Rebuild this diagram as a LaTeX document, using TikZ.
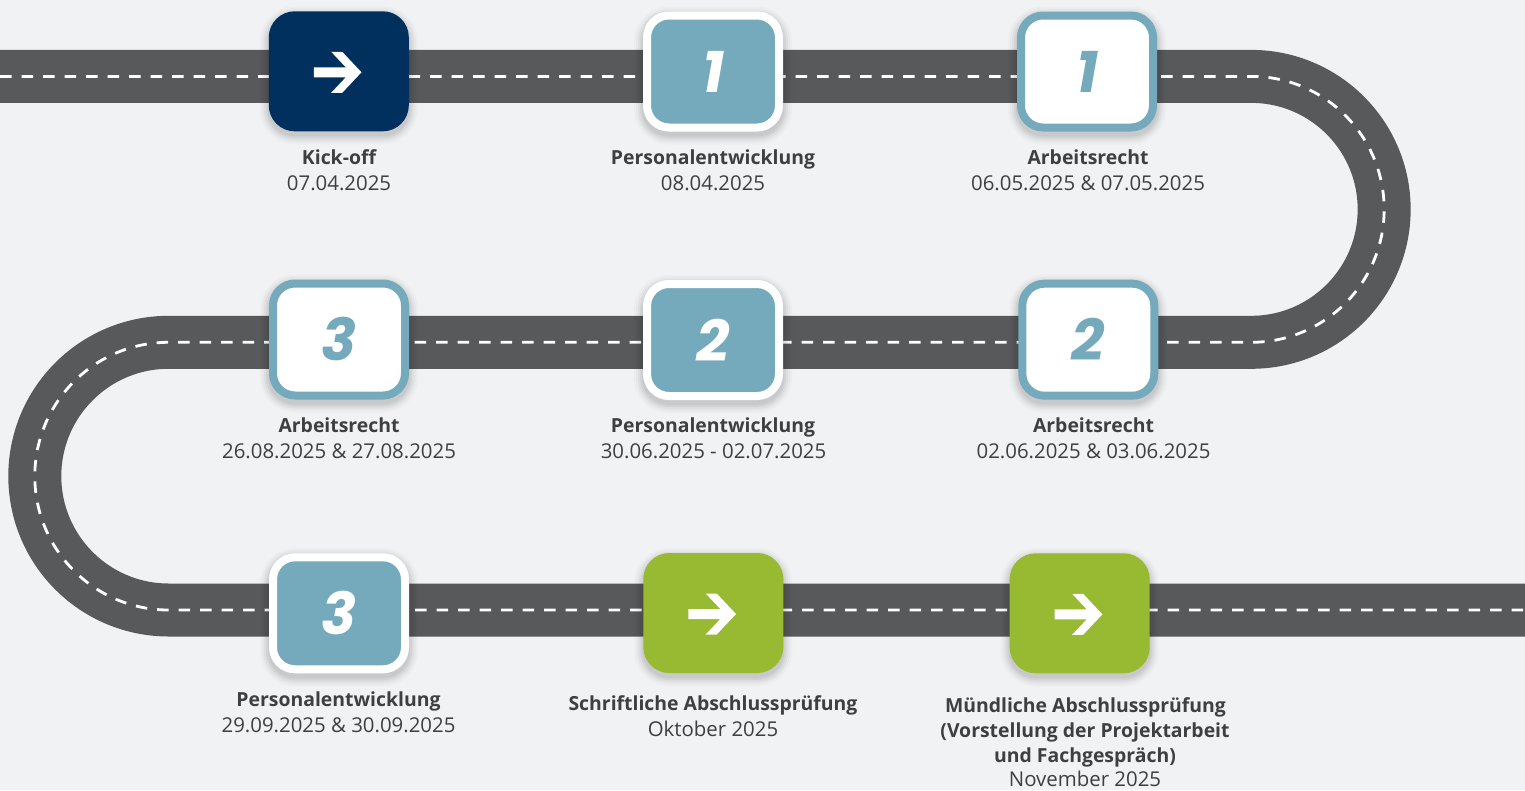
\documentclass[tikz,border=0pt]{standalone}
\usepackage{fontspec}
\setmainfont{Open Sans}
\newfontfamily\numfont{Poppins}
\definecolor{bgc}{HTML}{F1F2F4}
\definecolor{roadc}{HTML}{58595B}
\definecolor{navyc}{HTML}{012F5E}
\definecolor{tealc}{HTML}{75AABD}
\definecolor{greenc}{HTML}{97BA32}
\definecolor{textc}{HTML}{3F3F40}
\newcommand\myarrowicon[1]{%
  \begin{scope}[shift={(#1.center)}, yshift=-1pt]
    \fill[white] (-25,-5) -- (7,-5) -- (-7.6,-20.5) -- (3.4,-20.5) -- (22.7,0)
      -- (3.4,20.5) -- (-7.6,20.5) -- (7,5) -- (-25,5) -- cycle;
  \end{scope}}
\newcommand\myshadow[2]{%
  \foreach \e/\r/\o in {1/27/0.05,3/29/0.045,5/31/0.035,7/33/0.025,9/35/0.02}{
    \fill[black, opacity=\o, rounded corners=\r pt]
      (#1-70-\e, #2-60-\e+4) rectangle (#1+70+\e, #2+60+\e+4);
  }}
\begin{document}
\begin{tikzpicture}[x=1pt, y=-1pt,
  road/.style={line width=53pt, draw=roadc},
  midline/.style={line width=2.8pt, draw=white, dash pattern=on 11.5pt off 10pt},
  boxbase/.style={minimum width=132pt, minimum height=112pt, rounded corners=22pt,
    line width=8pt, inner sep=0pt},
  pebox/.style={boxbase, fill=tealc, draw=white},
  arbox/.style={boxbase, fill=white, draw=tealc},
  navybox/.style={boxbase, fill=navyc, draw=navyc},
  greenbox/.style={boxbase, fill=greenc, draw=greenc},
  ttl/.style={anchor=base, inner sep=0pt, text=textc,
    font=\bfseries\fontsize{19.4}{26}\selectfont},
  dat/.style={anchor=base, inner sep=0pt, text=textc,
    font=\fontsize{20.4}{26}\selectfont},
  numw/.style={inner sep=0pt, text=white,
    font=\numfont\bfseries\itshape\fontsize{58}{58}\selectfont},
  numt/.style={numw, text=tealc}]
\useasboundingbox (0,0) rectangle (1525,790);
\fill[bgc] (0,0) rectangle (1525,790);

% road
\coordinate (rs) at (0,76.4);
\coordinate (re) at (1525,610);
\draw[road] (rs) -- (1251.2,76.4) arc[start angle=-90, end angle=90, radius=132.95]
  -- (168.65,342.3) arc[start angle=270, end angle=90, radius=133.85] -- (re);
\draw[midline] (rs) -- (1251.2,76.4) arc[start angle=-90, end angle=90, radius=132.95]
  -- (168.65,342.3) arc[start angle=270, end angle=90, radius=133.85] -- (re);

% shadows
\myshadow{338.8}{71.3}
\myshadow{713}{71.5}
\myshadow{1087}{71.5}
\myshadow{339}{339.5}
\myshadow{713}{340}
\myshadow{1088.3}{339.7}
\myshadow{339}{613.3}
\myshadow{713.3}{613}
\myshadow{1079.7}{613.3}

% boxes
\node[navybox] (b0) at (338.8,71.3) {};
\node[pebox] (b1) at (713,71.5) {};
\node[arbox] (b2) at (1087,71.5) {};
\node[arbox] (b5) at (339,339.5) {};
\node[pebox] (b4) at (713,340) {};
\node[arbox] (b3) at (1088.3,339.7) {};
\node[pebox] (b6) at (339,613.3) {};
\node[greenbox] (b7) at (713.3,613) {};
\node[greenbox] (b8) at (1079.7,613.3) {};

% icons
\myarrowicon{b0}
\myarrowicon{b7}
\myarrowicon{b8}
\node[numw] (n1) at (b1.center) {1};
\node[numt] (n2) at (b2.center) {1};
\node[numt] (n3) at (b3.center) {2};
\node[numw] (n4) at (b4.center) {2};
\node[numt] (n5) at (b5.center) {3};
\node[numw] (n6) at (b6.center) {3};

% labels
\node[ttl] (t0) at (339,164) {Kick-off};
\node[dat] (d0) at (339,190) {07.04.2025};
\node[ttl] (t1) at (713,164) {Personalentwicklung};
\node[dat] (d1) at (713,190) {08.04.2025};
\node[ttl] (t2) at (1088,164) {Arbeitsrecht};
\node[dat] (d2) at (1088,190) {06.05.2025 \& 07.05.2025};
\node[ttl] (t5) at (339,432.7) {Arbeitsrecht};
\node[dat] (d5) at (339,458.5) {26.08.2025 \& 27.08.2025};
\node[ttl] (t4) at (713,432.7) {Personalentwicklung};
\node[dat] (d4) at (713.5,458.5) {30.06.2025 - 02.07.2025};
\node[ttl] (t3) at (1093.5,432.7) {Arbeitsrecht};
\node[dat] (d3) at (1093.5,458.5) {02.06.2025 \& 03.06.2025};
\node[ttl] (t6) at (338.5,706.7) {Personalentwicklung};
\node[dat] (d6) at (338.5,732.7) {29.09.2025 \& 30.09.2025};
\node[ttl] (t7) at (713,710.7) {Schriftliche Abschlussprüfung};
\node[dat] (d7) at (713,736.3) {Oktober 2025};
\node[ttl] (t8a) at (1085.5,712.7) {Mündliche Abschlussprüfung};
\node[ttl] (t8b) at (1085,737.5) {(Vorstellung der Projektarbeit};
\node[ttl] (t8c) at (1085,762) {und Fachgespräch)};
\node[dat] (d8) at (1085,786.5) {November 2025};
\end{tikzpicture}
\end{document}
